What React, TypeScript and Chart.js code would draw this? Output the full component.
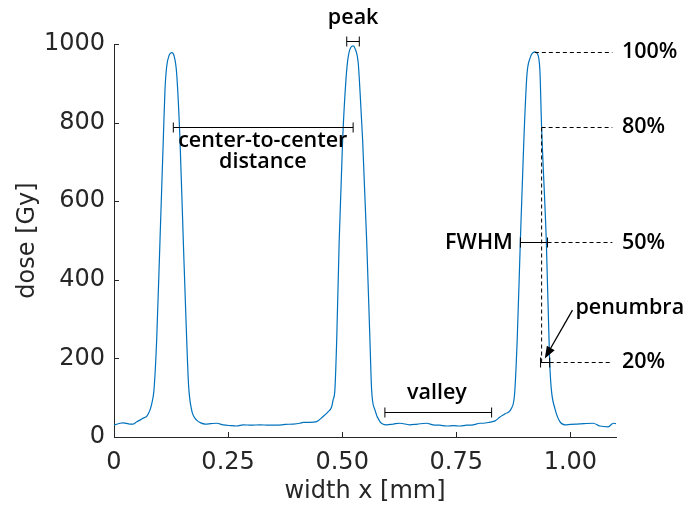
import { useEffect, useRef } from "react";
import { Chart, registerables } from "chart.js";

Chart.register(...registerables);

// width x [mm]
const widthMm = [
  0.0, 0.013, 0.02, 0.035, 0.042, 0.05, 0.057, 0.064, 0.072, 0.079, 0.083,
  0.0876, 0.0935, 0.1008, 0.108, 0.1117, 0.1154, 0.1211, 0.1264, 0.1321, 0.1373,
  0.1446, 0.1518, 0.1593, 0.1635, 0.17, 0.175, 0.181, 0.19, 0.2, 0.212, 0.225,
  0.239, 0.255, 0.269, 0.283, 0.3, 0.32, 0.338, 0.356, 0.375, 0.393, 0.407,
  0.415, 0.429, 0.444, 0.458, 0.469, 0.477, 0.48, 0.484, 0.488, 0.4935, 0.501,
  0.5082, 0.5133, 0.5242, 0.528, 0.5352, 0.5389, 0.5448, 0.5536, 0.5608, 0.5645,
  0.5717, 0.5827, 0.597, 0.612, 0.6265, 0.648, 0.665, 0.685, 0.699, 0.714, 0.729,
  0.744, 0.758, 0.772, 0.787, 0.802, 0.809, 0.824, 0.835, 0.845, 0.857, 0.871,
  0.8778, 0.8835, 0.8905, 0.8981, 0.9047, 0.9113, 0.9222, 0.9273, 0.9332, 0.9369,
  0.9474, 0.9547, 0.9584, 0.966, 0.977, 0.988, 1.0, 1.0136, 1.03, 1.05, 1.0646,
  1.083, 1.094, 1.1,
];

// dose [Gy]
const doseGy = [
  30, 35, 36, 33, 33, 39, 43, 48, 53, 69, 86,
  120, 247, 501, 756, 883, 942, 972, 978, 968, 925,
  756, 501, 247, 130, 69, 52, 43, 36, 33, 34, 35,
  31, 29, 28, 31, 30, 31, 30, 30, 32, 33, 35,
  37, 37, 39, 52, 64, 77, 94, 120, 247, 501, 756,
  908, 968, 995, 989, 951, 883, 756, 501, 247, 120,
  69, 39, 31, 33, 35, 31, 33, 35, 31, 30, 28,
  29, 28, 30, 31, 35, 35, 38, 41, 50, 59, 73,
  110, 247, 501, 756, 920, 963, 980, 976, 934, 790,
  495, 190, 120, 73, 39, 31, 32, 33, 34, 35, 28,
  26, 35, 34,
];

const xTickValues = [0, 0.25, 0.5, 0.75, 1.0];
const xTickLabels = ["0", "0.25", "0.50", "0.75", "1.00"];
const yTickValues = [0, 200, 400, 600, 800, 1000];
const yTickLabels = ["0", "200", "400", "600", "800", "1000"];

// reference levels of the right-hand peak
const levelValues = [980, 790, 495, 190];
const levelLabels = ["100%", "80%", "50%", "20%"];

const AXIS = "#262626";
const INK = "#000000";
const ANNO_FONT = '600 21.5px "Open Sans"';

const annotationPlugin = {
  id: "doseAnnotations",
  afterDatasetsDraw(chart: any) {
    const { ctx, chartArea, scales } = chart;
    const xs = scales.x;
    const ys = scales.y;
    const X = (v: number) => xs.getPixelForValue(v);
    const Y = (v: number) => ys.getPixelForValue(v);

    ctx.save();
    // inward ticks
    ctx.strokeStyle = AXIS;
    ctx.lineWidth = 1;
    ctx.beginPath();
    yTickValues.forEach((v) => {
      const y = Math.round(Y(v)) + 0.5;
      ctx.moveTo(chartArea.left, y);
      ctx.lineTo(chartArea.left + 5, y);
    });
    xTickValues.forEach((v) => {
      const x = Math.round(X(v)) + 0.5;
      ctx.moveTo(x, chartArea.bottom);
      ctx.lineTo(x, chartArea.bottom - 5);
    });
    ctx.stroke();

    const capBar = (x1: number, x2: number, yv: number) => {
      const y = Math.round(Y(yv)) + 0.5;
      const a = X(x1);
      const b = X(x2);
      ctx.beginPath();
      ctx.moveTo(a, y);
      ctx.lineTo(b, y);
      ctx.moveTo(a, y - 5);
      ctx.lineTo(a, y + 5);
      ctx.moveTo(b, y - 5);
      ctx.lineTo(b, y + 5);
      ctx.stroke();
    };
    const dashed = (x1: number, y1: number, x2: number, y2: number) => {
      ctx.save();
      ctx.setLineDash([4, 3]);
      ctx.beginPath();
      ctx.moveTo(X(x1), Math.round(Y(y1)) + 0.5);
      ctx.lineTo(X(x2), Math.round(Y(y2)) + 0.5);
      ctx.stroke();
      ctx.restore();
    };
    const text = (s: string, xv: number, yv: number, align: CanvasTextAlign) => {
      ctx.textAlign = align;
      ctx.textBaseline = "middle";
      ctx.fillText(s, X(xv), Y(yv));
    };

    ctx.strokeStyle = INK;
    ctx.fillStyle = INK;
    ctx.lineWidth = 1;
    ctx.font = ANNO_FONT;

    // peak
    capBar(0.51, 0.5375, 1007);
    text("peak", 0.524, 1066, "center");

    // center-to-center distance
    capBar(0.13, 0.524, 789);
    text("center-to-center", 0.326, 754, "center");
    text("distance", 0.326, 700, "center");

    // valley
    capBar(0.5936, 0.8274, 64);
    text("valley", 0.7075, 112, "center");

    // FWHM
    capBar(0.8905, 0.95, levelValues[2]);
    text("FWHM", 0.874, levelValues[2], "right");

    // dashed reference lines
    const xEnd = 1.092;
    dashed(0.9222, levelValues[0], xEnd, levelValues[0]);
    dashed(0.937, levelValues[1], xEnd, levelValues[1]);
    dashed(0.95, levelValues[2], xEnd, levelValues[2]);
    dashed(0.9547, levelValues[3], xEnd, levelValues[3]);
    dashed(0.937, levelValues[1], 0.937, levelValues[3]);

    // penumbra
    capBar(0.9347, 0.9547, levelValues[3]);
    levelLabels.forEach((l, i) => text(l, 1.113, levelValues[i], "left"));
    text("penumbra", 1.011, 328, "left");

    // arrow
    const ax1 = X(1.0046), ay1 = Y(323);
    const ax2 = X(0.944), ay2 = Y(200);
    const ang = Math.atan2(ay2 - ay1, ax2 - ax1);
    const hl = 12, hw = 4.5;
    const bx = ax2 - hl * Math.cos(ang), by = ay2 - hl * Math.sin(ang);
    ctx.lineWidth = 1.3;
    ctx.beginPath();
    ctx.moveTo(ax1, ay1);
    ctx.lineTo(bx, by);
    ctx.stroke();
    ctx.beginPath();
    ctx.moveTo(ax2, ay2);
    ctx.lineTo(bx + hw * Math.sin(ang), by - hw * Math.cos(ang));
    ctx.lineTo(bx - hw * Math.sin(ang), by + hw * Math.cos(ang));
    ctx.closePath();
    ctx.fill();

    ctx.restore();
  },
};

export default function App() {
  const ref = useRef<HTMLCanvasElement>(null);

  useEffect(() => {
    document.body.style.margin = "0";
    const chart = new Chart(ref.current as HTMLCanvasElement, {
      type: "line",
      data: {
        datasets: [
          {
            data: widthMm.map((x, i) => ({ x, y: doseGy[i] })),
            borderColor: "#0072BD",
            borderWidth: 1.2,
            pointRadius: 0,
            cubicInterpolationMode: "monotone",
            fill: false,
          },
        ],
      },
      options: {
        animation: false,
        responsive: false,
        devicePixelRatio: 1,
        layout: { padding: { left: 0, right: 70, top: 44, bottom: 0 } },
        plugins: { legend: { display: false }, tooltip: { enabled: false } },
        scales: {
          x: {
            type: "linear",
            min: 0,
            max: 1.1,
            afterBuildTicks: (s: any) => {
              s.ticks = xTickValues.map((v) => ({ value: v }));
            },
            afterFit: (s: any) => {
              s.height = 70;
            },
            grid: { display: false, drawTicks: false },
            border: { display: true, color: AXIS, width: 1 },
            ticks: {
              color: AXIS,
              font: { family: "DejaVu Sans", size: 24 },
              padding: 11,
              maxRotation: 0,
              callback: (v: any) => {
                const i = xTickValues.findIndex((t) => Math.abs(t - Number(v)) < 1e-9);
                return i >= 0 ? xTickLabels[i] : "";
              },
            },
            title: {
              display: true,
              text: "width x [mm]",
              color: AXIS,
              font: { family: "DejaVu Sans", size: 24 },
              padding: { top: 0, bottom: 1 },
            },
          },
          y: {
            type: "linear",
            min: 0,
            max: 1000,
            afterBuildTicks: (s: any) => {
              s.ticks = yTickValues.map((v) => ({ value: v }));
            },
            afterFit: (s: any) => {
              s.width = 114;
            },
            grid: { display: false, drawTicks: false },
            border: { display: true, color: AXIS, width: 1 },
            ticks: {
              color: AXIS,
              font: { family: "DejaVu Sans", size: 24 },
              padding: 9,
              callback: (v: any) => {
                const i = yTickValues.findIndex((t) => Math.abs(t - Number(v)) < 1e-9);
                return i >= 0 ? yTickLabels[i] : "";
              },
            },
            title: {
              display: true,
              text: "dose [Gy]",
              color: AXIS,
              font: { family: "DejaVu Sans", size: 24 },
              padding: { top: 13, bottom: 0 },
            },
          },
        },
      } as any,
      plugins: [annotationPlugin],
    });
    return () => chart.destroy();
  }, []);

  return (
    <div style={{ width: 686, height: 507, position: "relative" }}>
      <canvas ref={ref} width={686} height={507} style={{ width: 686, height: 507, display: "block" }} />
    </div>
  );
}
